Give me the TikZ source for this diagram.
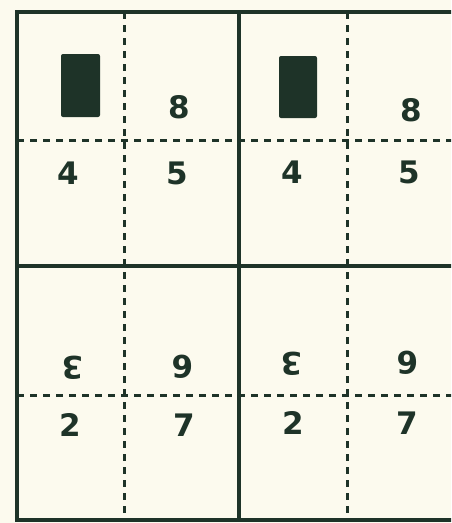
\documentclass[tikz,border=0pt]{standalone}
\usepackage{fontspec}
\setmainfont{DejaVu Sans}
\definecolor{ink}{HTML}{1E3328}
\definecolor{paper}{HTML}{FCFAEE}
\begin{document}
\begin{tikzpicture}[x=1pt,y=-1pt,
  frame/.style={draw=ink,line width=3.6pt},
  half/.style={draw=ink,line width=3pt,dash pattern=on 7pt off 6pt},
  digit/.style={text=ink,font=\fontsize{31}{31}\selectfont\bfseries},
  block/.style={fill=ink,rounded corners=2pt}]
\fill[paper] (0,0) rectangle (451,523);
\clip (0,0) rectangle (451,523);

\draw[half] (17,140) -- (461,140);
\draw[half] (17,395) -- (461,395);
\draw[half] (124,12) -- (124,520);
\draw[half] (347,12) -- (347,520);

\draw[frame] (17,12) rectangle (461,520);
\draw[frame] (239,12) -- (239,520);
\draw[frame] (17,266) -- (461,266);

\fill[block] (61,54) rectangle (100,117);
\fill[block] (279,56) rectangle (317,118);

\node[digit] (eightL) at (179,107) {8};
\node[digit] (fourL) at (68,173) {4};
\node[digit] (fiveL) at (177,173) {5};
\node[digit] (eightR) at (411,110) {8};
\node[digit] (fourR) at (292,172) {4};
\node[digit] (fiveR) at (409,172) {5};

\node[digit,rotate=180] (threeL) at (73,368) {3};
\node[digit,rotate=180] (sixL) at (183,367) {6};
\node[digit] (twoL) at (70,425) {2};
\node[digit] (sevenL) at (184,425) {7};
\node[digit,rotate=180] (threeR) at (292,364) {3};
\node[digit,rotate=180] (sixR) at (408,363) {6};
\node[digit] (twoR) at (293,423) {2};
\node[digit] (sevenR) at (407,423) {7};
\end{tikzpicture}
\end{document}
